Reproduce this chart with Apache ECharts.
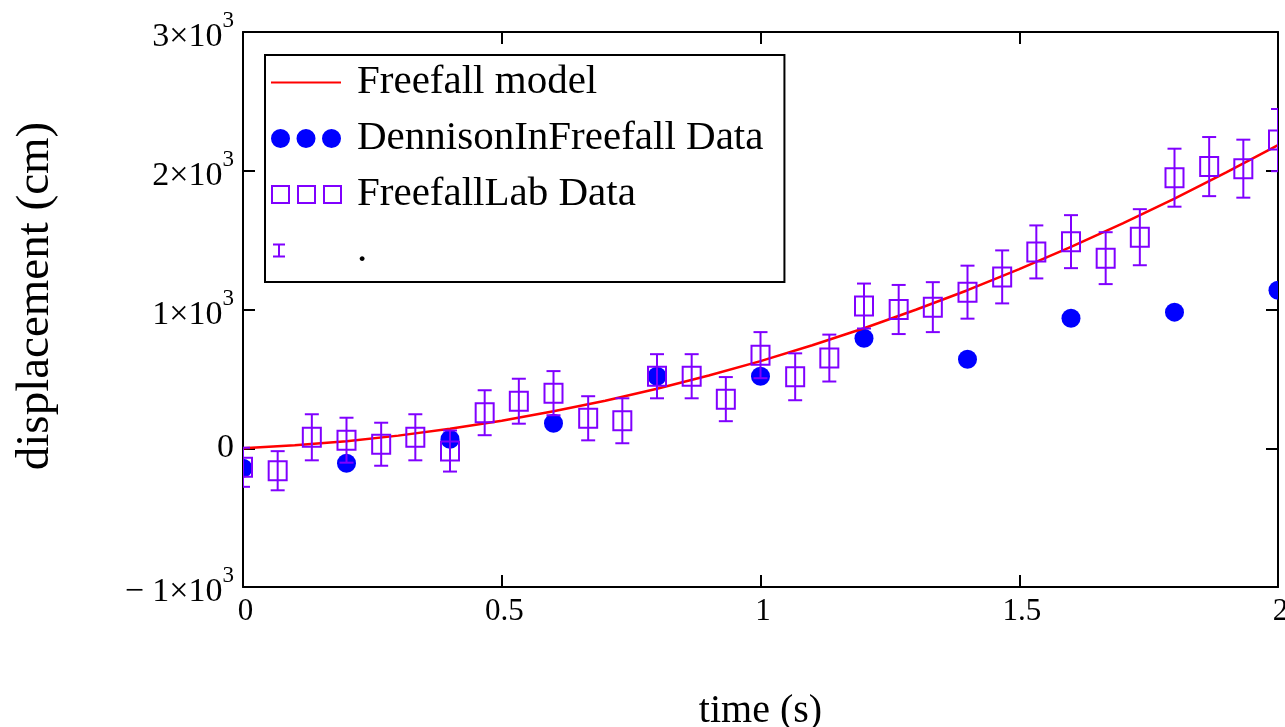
<!DOCTYPE html>
<html>
<head>
<meta charset="utf-8">
<script src="https://cdn.jsdelivr.net/npm/echarts@6/dist/echarts.min.js"></script>
<style>
html,body{margin:0;padding:0;background:#fff;}
#chart{width:1285px;height:727px;}
</style>
</head>
<body>
<div id="chart"></div>
<script>
// ---- data ----
const tModel = [0,0.1,0.2,0.3,0.4,0.5,0.6,0.7,0.8,0.9,1.0,1.1,1.2,1.3,1.4,1.5,1.6,1.7,1.8,1.9,2.0];
const dModel = [0,21,51,91,140,198,266,342,429,524,628,742,865,998,1139,1291,1451,1621,1799,1988,2185];

const tDennison = [0,0.2,0.4,0.6,0.8,1.0,1.2,1.4,1.6,1.8,2.0];
const dDennison = [-144,-108,65,180,519,519,793,642,937,981,1139];

const tLab = [0,0.067,0.133,0.2,0.267,0.333,0.4,0.467,0.533,0.6,0.667,0.733,0.8,0.867,0.933,1.0,
              1.067,1.133,1.2,1.267,1.333,1.4,1.467,1.533,1.6,1.667,1.733,1.8,1.867,1.933,2.0];
const dLab = [-137,-162,79,58,29,79,-20,256,339,397,216,198,519,519,354,671,
              515,650,1025,1000,1017,1125,1235,1415,1489,1370,1521,1950,2030,2015,2221];
const errLab = [141,141,166,162,155,166,148,162,162,159,159,162,159,159,159,166,
                169,169,162,177,180,191,191,191,191,187,202,209,213,209,224];

const xTickLabels = ['0','0.5','1','1.5','2'];
const seriesNames = ['Freefall model','DennisonInFreefall Data','FreefallLab Data','.'];

const FONT = 'Liberation Serif';
const RED = '#ff0000', BLUE = '#0000ff', PURPLE = '#8000ff';

const modelData = tModel.map((t,i)=>[t,dModel[i]]);
const dennisonData = tDennison.map((t,i)=>[t,dDennison[i]]);
const labData = tLab.map((t,i)=>[t,dLab[i],errLab[i]]);

const chart = echarts.init(document.getElementById('chart'), null, {renderer:'canvas'});

function yLabel(v){
  if (v === 0) return '{b|0}';
  const k = v/1000;
  if (k < 0) return '{b|\u2212 ' + Math.abs(k) + '\u00d710}{s|3}';
  return '{b|' + k + '\u00d710}{s|3}';
}

const anchors = ' M0,0 L0,0 M81,20 L81,20';
const iconLine = 'path://M0,9 L70,9 L70,11 L0,11 Z' + anchors;
const iconDots = 'path://M0,10 a9.5,9.5 0 1,0 19,0 a9.5,9.5 0 1,0 -19,0 Z' +
                 ' M25.5,10 a9.5,9.5 0 1,0 19,0 a9.5,9.5 0 1,0 -19,0 Z' +
                 ' M51,10 a9.5,9.5 0 1,0 19,0 a9.5,9.5 0 1,0 -19,0 Z' + anchors;
const iconSquares = 'path://M1,1.5 L18,1.5 L18,18.5 L1,18.5 Z M27,1.5 L44,1.5 L44,18.5 L27,18.5 Z M53,1.5 L70,1.5 L70,18.5 L53,18.5 Z' + anchors;
const iconErr = 'path://M2,3 L14,3 L14,5 L2,5 Z M7,3 L9,3 L9,17 L7,17 Z M2,15 L14,15 L14,17 L2,17 Z' + anchors;

const axisCommon = {
  axisLine:{show:true, onZero:false, lineStyle:{color:'#000', width:2}},
  axisTick:{show:true, inside:true, length:12, lineStyle:{color:'#000', width:2}},
  splitLine:{show:false}
};

const option = {
  animation:false,
  backgroundColor:'#fff',
  grid:{left:243, right:7, top:32, bottom:140, containLabel:false, outerBoundsMode:'none'},
  legend:{
    orient:'vertical', left:265, top:55,
    itemWidth:81, itemHeight:20, itemGap:15,
    padding:[7,21,11,5],
    borderColor:'#000', borderWidth:2, backgroundColor:'#fff',
    selectedMode:false,
    textStyle:{fontFamily:FONT, fontSize:41, color:'#000'},
    data:[
      {name:seriesNames[0], icon:iconLine, itemStyle:{color:RED, borderWidth:0}},
      {name:seriesNames[1], icon:iconDots, itemStyle:{color:BLUE, borderWidth:0}},
      {name:seriesNames[2], icon:iconSquares, itemStyle:{color:'rgba(0,0,0,0)', borderColor:PURPLE, borderWidth:2}},
      {name:seriesNames[3], icon:iconErr, itemStyle:{color:PURPLE, borderWidth:0}}
    ]
  },
  xAxis:[
    Object.assign({}, axisCommon, {
      type:'value', position:'bottom', min:0, max:2, interval:0.5,
      name:'time (s)', nameLocation:'middle', nameGap:104,
      nameTextStyle:{fontFamily:FONT, fontSize:40, color:'#000'},
      axisLabel:{show:true, margin:9, fontFamily:FONT, fontSize:31, color:'#000', padding:[0,0,0,5],
        formatter:function(v){ return xTickLabels[Math.round(v/0.5)]; }}
    }),
    Object.assign({}, axisCommon, {
      type:'value', position:'top', min:0, max:2, interval:0.5,
      axisLabel:{show:false}
    })
  ],
  yAxis:[
    Object.assign({}, axisCommon, {
      type:'value', position:'left', min:-1000, max:3000, interval:1000,
      name:'displacement (cm)', nameLocation:'middle', nameGap:184,
      nameTextStyle:{fontFamily:FONT, fontSize:47, color:'#000', padding:[0,0,0,27]},
      axisLabel:{show:true, margin:9, color:'#000', formatter:yLabel,
        rich:{
          b:{fontFamily:FONT, fontSize:34, color:'#000', verticalAlign:'bottom'},
          s:{fontFamily:FONT, fontSize:23, color:'#000', verticalAlign:'top', padding:[0,0,22,0]}
        }}
    }),
    Object.assign({}, axisCommon, {
      type:'value', position:'right', min:-1000, max:3000, interval:1000,
      axisLabel:{show:false}
    })
  ],
  series:[
    {
      name:seriesNames[0], type:'line', data:modelData, z:3,
      symbol:'none', showSymbol:false, smooth:false, clip:true,
      lineStyle:{color:RED, width:2.5}, itemStyle:{color:RED}
    },
    {
      name:seriesNames[1], type:'custom', data:dennisonData, z:2, clip:true,
      itemStyle:{color:BLUE},
      encode:{x:0, y:1},
      renderItem:function(params, api){
        const p = api.coord([api.value(0), api.value(1)]);
        return {type:'circle', shape:{cx:p[0], cy:p[1], r:9.5}, style:{fill:BLUE, stroke:null}};
      }
    },
    {
      name:seriesNames[3], type:'custom', data:labData, z:4, clip:true,
      itemStyle:{color:PURPLE},
      encode:{x:0, y:[1]},
      renderItem:function(params, api){
        const t = api.value(0), d = api.value(1), e = api.value(2);
        const top = api.coord([t, d + e]);
        const bot = api.coord([t, d - e]);
        const st = {stroke:PURPLE, lineWidth:2, fill:null};
        return {type:'group', children:[
          {type:'line', shape:{x1:top[0], y1:top[1], x2:bot[0], y2:bot[1]}, style:st},
          {type:'line', shape:{x1:top[0]-7, y1:top[1], x2:top[0]+7, y2:top[1]}, style:st},
          {type:'line', shape:{x1:bot[0]-7, y1:bot[1], x2:bot[0]+7, y2:bot[1]}, style:st}
        ]};
      }
    },
    {
      name:seriesNames[2], type:'custom', data:labData, z:5, clip:true,
      itemStyle:{color:PURPLE},
      encode:{x:0, y:1},
      renderItem:function(params, api){
        const p = api.coord([api.value(0), api.value(1)]);
        return {type:'rect', shape:{x:p[0]-9, y:p[1]-9.5, width:18, height:19},
                style:{fill:null, stroke:PURPLE, lineWidth:2}};
      }
    }
  ]
};
chart.setOption(option);
</script>
</body>
</html>
